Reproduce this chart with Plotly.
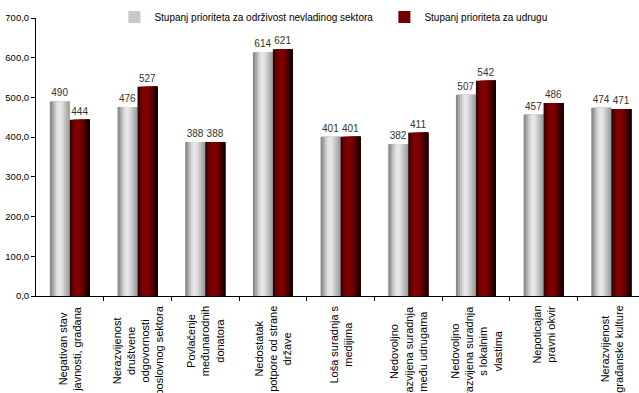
import plotly.graph_objects as go

categories = [
    "Negativan stav<br>javnosti, građana",
    "Nerazvijenost<br>društvene<br>odgovornosti<br>poslovnog sektora",
    "Povlačenje<br>međunarodnih<br>donatora",
    "Nedostatak<br>potpore od strane<br>države",
    "Loša suradnja s<br>medijima",
    "Nedovoljno<br>razvijena suradnja<br>među udrugama",
    "Nedovoljno<br>razvijena suradnja<br>s lokalnim<br>vlastima",
    "Nepoticajan<br>pravni okvir",
    "Nerazvijenost<br>građanske kulture",
]
series_names = [
    "Stupanj prioriteta za održivost nevladinog sektora",
    "Stupanj prioriteta za udrugu",
]
sector_values = [490, 476, 388, 614, 401, 382, 507, 457, 474]
udruga_values = [444, 527, 388, 621, 401, 411, 542, 486, 471]
y_ticks = [0, 100, 200, 300, 400, 500, 600, 700]

gray_grad = ["#8a8a8a", "#a6a6a6", "#c4c4c4", "#dcdcdc", "#e8e8e8", "#e4e4e4",
             "#d6d6d6", "#c4c4c4", "#b2b2b2", "#a2a2a2"]
red_grad = ["#3c0000", "#620000", "#7a0000", "#820000", "#800000", "#760000",
            "#640000", "#4c0000", "#300000", "#140000"]

idx = list(range(len(categories)))
FONT = "Liberation Sans, Arial, sans-serif"
bar_w = 0.295

fig = go.Figure()


def add_series(values, colors, start, name, legend_color):
    n = len(colors)
    step = bar_w / n
    for i, c in enumerate(colors):
        fig.add_trace(go.Bar(
            x=idx, y=values,
            offset=start + i * step, width=bar_w - i * step,
            marker=dict(color=c, line=dict(width=0)),
            showlegend=False, hoverinfo="skip",
            text=[str(v) for v in values] if i == 0 else None,
            textposition="outside" if i == 0 else "none",
            textfont=dict(size=10, color="#333333", family=FONT),
            constraintext="none", cliponaxis=False,
        ))
    fig.add_trace(go.Bar(
        x=[None], y=[None], name=name,
        marker=dict(color=legend_color, line=dict(width=0)),
        showlegend=True,
    ))


add_series(sector_values, gray_grad, -bar_w, series_names[0], "#c8c8c8")
add_series(udruga_values, red_grad, 0.0, series_names[1], "#700000")

for i, lab in enumerate(categories):
    fig.add_annotation(
        x=i, y=0, xref="x", yref="y", text=lab, showarrow=False,
        textangle=-90, align="center", xanchor="center", yanchor="top",
        yshift=-8, font=dict(size=11, color="#000000", family=FONT),
    )

fig.update_layout(
    width=639, height=393,
    margin=dict(l=36, r=0, t=18, b=97, autoexpand=False),
    paper_bgcolor="white", plot_bgcolor="white",
    barmode="overlay",
    separators=", ",
    font=dict(family=FONT, size=10, color="#000000"),
    showlegend=True,
    legend=dict(
        orientation="h", x=0.13, y=1.004, xanchor="left", yanchor="middle",
        font=dict(size=10, color="#000000", family=FONT),
        itemwidth=30, entrywidth=225, bgcolor="rgba(0,0,0,0)",
    ),
    xaxis=dict(
        type="linear", range=[-0.5, 8.41], tickvals=[i - 0.5 for i in idx[1:]],
        ticks="outside", ticklen=4, tickcolor="#000000", showticklabels=False,
        showline=True, linecolor="#000000", linewidth=1, showgrid=False,
        zeroline=False, fixedrange=True,
    ),
    yaxis=dict(
        range=[0, 700], tickvals=y_ticks, tickformat=".1f",
        ticks="outside", ticklen=4, tickcolor="#000000",
        showline=True, linecolor="#000000", linewidth=1, showgrid=False,
        zeroline=False, tickfont=dict(size=9.5, color="#000000", family=FONT),
    ),
)

fig.write_html(
    "out.html",
    config={"displayModeBar": False},
    post_script="document.body.style.margin='0';document.body.style.overflow='hidden';",
)
